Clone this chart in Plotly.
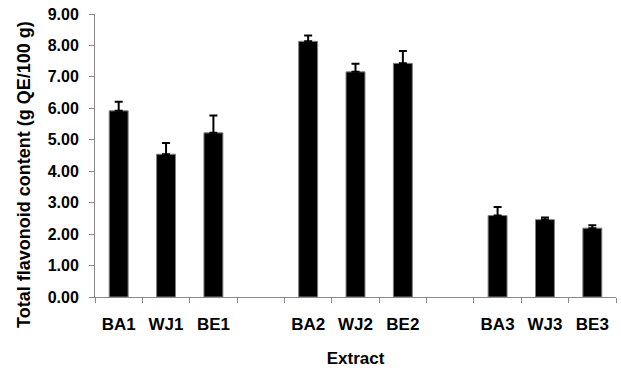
import plotly.graph_objects as go

categories = ["BA1", "WJ1", "BE1", " ", "BA2", "WJ2", "BE2", "  ", "BA3", "WJ3", "BE3"]
values = [5.92, 4.54, 5.22, None, 8.13, 7.16, 7.43, None, 2.59, 2.46, 2.19]
errors = [0.29, 0.36, 0.55, None, 0.19, 0.26, 0.39, None, 0.27, 0.07, 0.09]
y_ticks = [0, 1, 2, 3, 4, 5, 6, 7, 8, 9]
y_tick_labels = ["%.2f" % v for v in y_ticks]

FONT = "Liberation Sans, Arial, sans-serif"

fig = go.Figure()
fig.add_trace(go.Bar(
    x=categories,
    y=values,
    marker=dict(color="black", line=dict(color="#808080", width=1)),
    error_y=dict(type="data", array=errors, symmetric=False,
                 arrayminus=[0] * len(errors),
                 color="black", thickness=2, width=4),
    showlegend=False,
))

fig.add_annotation(
    text="<b>Total flavonoid content (g QE/100 g)</b>",
    textangle=-90,
    xref="paper", yref="paper",
    x=(24 - 95) / 521, y=(297 - 175) / 283,
    xanchor="center", yanchor="middle",
    showarrow=False,
    font=dict(family=FONT, size=18, color="black"),
)

fig.update_layout(
    width=621, height=370,
    margin=dict(l=95, r=5, t=14, b=73),
    paper_bgcolor="white", plot_bgcolor="white",
    bargap=0.6,
    font=dict(family=FONT, color="black"),
    xaxis=dict(
        type="category",
        categoryorder="array", categoryarray=categories,
        showline=True, linecolor="#888888", linewidth=1,
        ticks="outside", tickson="boundaries", ticklen=5,
        tickcolor="#888888",
        ticklabelstandoff=12,
        tickfont=dict(family=FONT, size=17, color="black", weight="bold"),
        title=dict(text="<b>Extract</b>", font=dict(family=FONT, size=17), standoff=18),
        showgrid=False, zeroline=False,
    ),
    yaxis=dict(
        range=[0, 9],
        tickvals=y_ticks, ticktext=y_tick_labels,
        showline=True, linecolor="#888888", linewidth=1,
        ticks="outside", ticklen=5, tickcolor="#888888",
        ticklabelstandoff=7,
        tickfont=dict(family=FONT, size=16, color="black", weight="bold"),
        showgrid=False, zeroline=False,
    ),
)

fig.write_html("out.html")
